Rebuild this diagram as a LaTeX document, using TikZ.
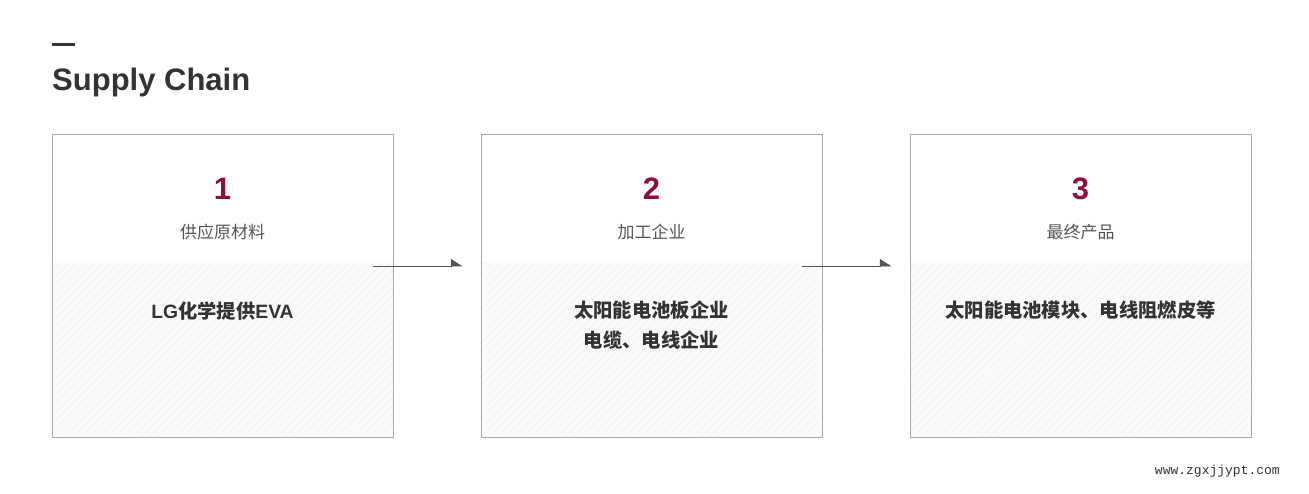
\documentclass[tikz,border=0pt]{standalone}
\usepackage{fontspec}
\setmainfont{Liberation Sans}
\setmonofont{Liberation Mono}
\newfontfamily\cjk{Noto Sans CJK SC}
\usepackage{xcolor}
\usepackage{tikz}
\usetikzlibrary{positioning,backgrounds,patterns.meta,arrows.meta}

\definecolor{ink}{HTML}{333333}
\definecolor{wine}{HTML}{8E0C3E}
\definecolor{frame}{HTML}{A8A8A8}
\definecolor{soft}{HTML}{555555}

\begin{document}
\begin{tikzpicture}[x=1pt, y=1pt, node distance=429pt,
    card/.style={draw=frame, line width=0.8pt, minimum width=341pt, minimum height=303pt, inner sep=0pt},
    num/.style={font=\fontsize{31}{31}\selectfont\bfseries, text=wine},
    stagename/.style={font=\cjk\fontsize{17}{17}\selectfont, text=soft},
    body/.style={font=\fontsize{19.3}{30}\selectfont\bfseries, text=ink, align=center},
    hatch/.style={fill=black!2, postaction={pattern={Lines[angle=45,distance=6pt,line width=0.7pt]}, pattern color=black!5}},
    flow/.style={draw=soft, line width=0.8pt, -{Triangle[harpoon,length=11pt,width=14pt]}}]
    \useasboundingbox (0,0) rectangle (1309,-493);

    % heading
    \draw[ink, line width=3pt] (52,-44) -- (75,-44);
    \node[anchor=base west, inner sep=0pt, text=ink, font=\fontsize{31}{31}\selectfont\bfseries] (title) at (52,-90) {Supply Chain};

    % three stages
    \node[card] (b1) at (222.5,-285.5) {};
    \node[card, right of=b1] (b2) {};
    \node[card, right of=b2] (b3) {};
    \begin{scope}[on background layer]
        \path[hatch] ([yshift=175pt]b1.south west) rectangle (b1.south east);
        \path[hatch] ([yshift=175pt]b2.south west) rectangle (b2.south east);
        \path[hatch] ([yshift=175pt]b3.south west) rectangle (b3.south east);
    \end{scope}

    \node[num] (n1) at ([yshift=-55pt]b1.north) {1};
    \node[num] (n2) at ([yshift=-55pt]b2.north) {2};
    \node[num] (n3) at ([yshift=-55pt]b3.north) {3};
    \node[stagename] (c1) at ([yshift=-98pt]b1.north) {供应原材料};
    \node[stagename] (c2) at ([yshift=-98pt]b2.north) {加工企业};
    \node[stagename] (c3) at ([yshift=-98pt]b3.north) {最终产品};
    \node[body] (t1) at ([yshift=-177pt]b1.north) {LG{\cjk 化学提供}EVA};
    \node[body] (t2) at ([yshift=-192pt]b2.north) {{\cjk 太阳能电池板企业}\\{\cjk 电缆、电线企业}};
    \node[body] (t3) at ([yshift=-177pt]b3.north) {{\cjk 太阳能电池模块、电线阻燃皮等}};

    \draw[flow] ([shift={(-20pt,19.5pt)}]b1.east) -- ([shift={(-18pt,19.5pt)}]b2.west);
    \draw[flow] ([shift={(-20pt,19.5pt)}]b2.east) -- ([shift={(-18pt,19.5pt)}]b3.west);

    \node[anchor=base east, inner sep=0pt, text=ink, font=\ttfamily\fontsize{13}{13}\selectfont] (mark) at (1280,-474) {www.zgxjjypt.com};
\end{tikzpicture}
\end{document}
